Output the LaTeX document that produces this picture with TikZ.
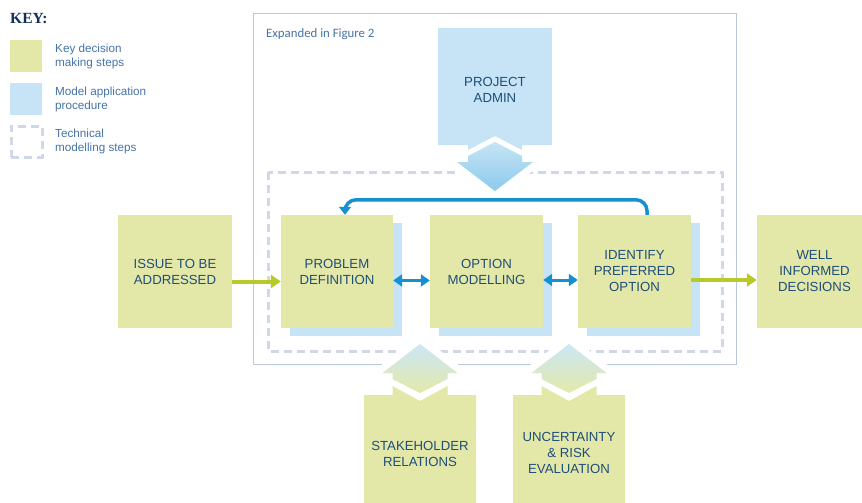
\documentclass[tikz,border=0pt]{standalone}
\usepackage{fontspec}
\setmainfont{Liberation Sans}
\newfontfamily\keyfont{Liberation Serif}
\newfontfamily\notefont{Carlito}
\usetikzlibrary{shapes, arrows.meta, positioning, calc, shadows}
\definecolor{stepgreen}{RGB}{227, 232, 169}
\definecolor{procblue}{RGB}{198, 228, 245}
\definecolor{procdeep}{RGB}{140, 202, 236}
\definecolor{linkblue}{RGB}{23, 144, 208}
\definecolor{flowgreen}{RGB}{184, 201, 42}
\definecolor{textnavy}{RGB}{31, 78, 121}
\definecolor{keynavy}{RGB}{20, 48, 88}
\definecolor{notetext}{RGB}{70, 115, 165}
\definecolor{panelline}{RGB}{184, 200, 218}
\definecolor{dashgrey}{RGB}{208, 216, 232}

\tikzset{
  stepbox/.style={fill=stepgreen, minimum height=113pt, inner sep=0pt, align=center,
    text=textnavy, font=\fontsize{13.2}{16}\selectfont},
  procshadow/.style={drop shadow={shadow xshift=9pt, shadow yshift=-8pt, fill=procblue, opacity=1}},
  steptext/.style={inner sep=0pt, align=center, text=textnavy, font=\fontsize{13.2}{16}\selectfont},
  keyswatch/.style={minimum width=32pt, minimum height=32pt, inner sep=0pt, outer sep=0pt},
  keytext/.style={inner sep=0pt, align=left, text=notetext, font=\fontsize{11.7}{14}\selectfont},
  flowarrow/.style={draw=flowgreen, line width=4pt, -{Triangle[width=13pt, length=10pt]}},
  linkarrow/.style={draw=linkblue, line width=3pt, {Triangle[width=12pt, length=9pt]}-{Triangle[width=12pt, length=9pt]}},
  loopback/.style={draw=linkblue, line width=3.5pt, rounded corners=11pt, -{Triangle[width=12pt, length=8pt]}},
  techdash/.style={draw=dashgrey, line width=3pt, dash pattern=on 8pt off 5pt},
  gapline/.style={draw=white, line width=14pt, line join=round}
}

\begin{document}
\begin{tikzpicture}[x=1pt, y=-1pt]
  \useasboundingbox (0,0) rectangle (862,503);

  % Key
  \node[anchor=west, inner sep=0pt, text=keynavy, font=\keyfont\bfseries\fontsize{15.5}{18}\selectfont] (keyhead) at (10,19) {KEY:};
  \node[keyswatch, fill=stepgreen] (keystep) at (26,56) {};
  \node[keytext, right=13pt of keystep] (keysteptext) {Key decision\\making steps};
  \node[keyswatch, fill=procblue] (keyproc) at (26,99) {};
  \node[keytext, right=13pt of keyproc] (keyproctext) {Model application\\procedure};
  \node[keyswatch, techdash, minimum width=31pt, minimum height=31pt] (keytech) at (26.5,141.5) {};
  \node[keytext, right=13pt of keytech] (keytechtext) {Technical\\modelling steps};

  % Expanded panel and technical steps
  \draw[panelline, line width=1pt] (253,14) rectangle (736,364);
  \node[anchor=west, inner sep=0pt, text=notetext, font=\notefont\fontsize{12.8}{15}\selectfont] (expnote) at (266,34) {Expanded in Figure 2};
  \draw[techdash] (268,172) rectangle (722,351);

  % White gaps round the inputs
  \draw[gapline] (495,142) -- (533,162) -- (495,191) -- (457,162) -- cycle;
  \draw[gapline] (420,344) -- (457.5,373) -- (447.5,386) -- (392.5,386) -- (382.5,373) -- cycle;
  \draw[gapline] (569,344) -- (606.5,373) -- (596.5,386) -- (541.5,386) -- (531.5,373) -- cycle;

  % Project admin
  \fill[procblue] (438,28) -- (552,28) -- (552,145) -- (522,145) -- (522,150) -- (495,136)
    -- (468,150) -- (468,145) -- (438,145) -- cycle;
  \shade[top color=procblue, bottom color=procdeep] (495,142) -- (522,156) -- (522,162) -- (533,162)
    -- (495,191) -- (457,162) -- (468,162) -- (468,156) -- cycle;
  \node[steptext] (admin) at (495,90) {PROJECT\\ADMIN};

  % Stakeholder relations
  \fill[stepgreen] (364,395) -- (392.5,395) -- (392.5,386) -- (420,401) -- (447.5,386) -- (447.5,395)
    -- (476,395) -- (476,510) -- (364,510) -- cycle;
  \shade[top color=procblue!90!white, bottom color=stepgreen] (420,344) -- (457.5,373) -- (447.5,373)
    -- (447.5,379) -- (420,393) -- (392.5,379) -- (392.5,373) -- (382.5,373) -- cycle;
  \node[steptext] (stake) at (420,454) {STAKEHOLDER\\RELATIONS};

  % Uncertainty and risk
  \fill[stepgreen] (513,395) -- (541.5,395) -- (541.5,386) -- (569,401) -- (596.5,386) -- (596.5,395)
    -- (625,395) -- (625,510) -- (513,510) -- cycle;
  \shade[top color=procblue!90!white, bottom color=stepgreen] (569,344) -- (606.5,373) -- (596.5,373)
    -- (596.5,379) -- (569,393) -- (541.5,379) -- (541.5,373) -- (531.5,373) -- cycle;
  \node[steptext] (risk) at (569,453) {UNCERTAINTY\\\& RISK\\EVALUATION};

  % Decision steps
  \node[stepbox, minimum width=114pt] (issue) at (175,271.5) {ISSUE TO BE\\ADDRESSED};
  \node[stepbox, procshadow, minimum width=112pt] (prob) at (337,271.5) {PROBLEM\\DEFINITION};
  \node[stepbox, procshadow, minimum width=113pt] (optmod) at (486.5,271.5) {OPTION\\MODELLING};
  \node[stepbox, procshadow, minimum width=113pt] (ident) at (634.5,271.5) {IDENTIFY\\PREFERRED\\OPTION};
  \node[stepbox, minimum width=115pt] (well) at (814.5,271.5) {WELL\\INFORMED\\DECISIONS};

  % Connectors
  \draw[flowarrow] ($(issue.east)+(0,10)$) -- ($(prob.west)+(0,10)$);
  \draw[linkarrow] ($(prob.east)+(0,9)$) -- ($(optmod.west)+(0,9)$);
  \draw[linkarrow] ($(optmod.east)+(0,8.5)$) -- ($(ident.west)+(0,8.5)$);
  \draw[flowarrow] ($(ident.east)+(0,8.5)$) -- ($(well.west)+(0,8.5)$);
  \draw[loopback] ([xshift=12.5pt]ident.north) -- ++(0,-15) -| ([xshift=8pt]prob.north);
\end{tikzpicture}
\end{document}
